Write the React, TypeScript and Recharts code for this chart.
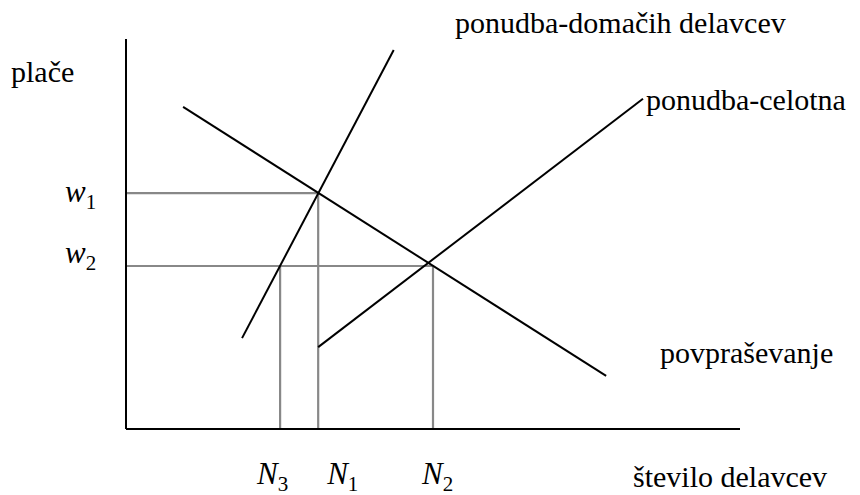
import { ComposedChart, Line, XAxis, YAxis, ReferenceLine, Customized } from 'recharts';

// number of workers (N) and wages (w), in chart units 0..100
const domesticSupply = [{ n: 18.9, w: 23.3 }, { n: 43.6, w: 97.2 }];
const totalSupply = [{ n: 31.3, w: 21.0 }, { n: 84.2, w: 84.7 }];
const demand = [{ n: 9.3, w: 82.6 }, { n: 78.2, w: 13.6 }];

const nValues = [25.1, 31.3, 50.0]; // N3, N1, N2
const nSubs = ['3', '1', '2'];
const wValues = [60.5, 41.8]; // w1, w2
const wSubs = ['1', '2'];

const FONT = '"Liberation Serif", "Times New Roman", serif';
const GRAY = '#888888';
const nLabelDx = [-23, 9, -11];
const wLabelDy = [9, -3];

const NTick = (props: any) => {
  const { x, index } = props;
  return (
    <text x={x + nLabelDx[index]} y={484} style={{ fontFamily: FONT, fontSize: 31 }} fill="#000">
      <tspan fontStyle="italic">N</tspan>
      <tspan style={{ fontSize: 21 }} dy={7}>{nSubs[index]}</tspan>
    </text>
  );
};

const WTick = (props: any) => {
  const { y, index } = props;
  return (
    <text x={65} y={y + wLabelDy[index]} style={{ fontFamily: FONT, fontSize: 31 }} fill="#000">
      <tspan fontStyle="italic">w</tspan>
      <tspan style={{ fontSize: 21 }} dy={7}>{wSubs[index]}</tspan>
    </text>
  );
};

const Labels = () => (
  <g style={{ fontFamily: FONT, fontSize: 30 }} fill="#000">
    <text x={11} y={82}>plače</text>
    <text x={455} y={33}>ponudba-domačih delavcev</text>
    <text x={646} y={110}>ponudba-celotna</text>
    <text x={660} y={363}>povpraševanje</text>
    <text x={633} y={487}>število delavcev</text>
  </g>
);

export default function App() {
  const [n3, n1, n2] = nValues;
  const [w1, w2] = wValues;
  return (
    <div style={{ position: 'absolute', left: 0, top: 0, width: 860, height: 495, background: '#fff' }}>
      <ComposedChart width={860} height={495} margin={{ top: 39, right: 120, bottom: 0, left: 0 }}>
        <XAxis
          dataKey="n"
          type="number"
          domain={[0, 100]}
          ticks={nValues}
          tickLine={false}
          axisLine={{ stroke: '#000', strokeWidth: 2 }}
          tick={<NTick />}
          height={66}
          allowDataOverflow
        />
        <YAxis
          dataKey="w"
          type="number"
          domain={[0, 100]}
          ticks={wValues}
          tickLine={false}
          axisLine={{ stroke: '#000', strokeWidth: 2 }}
          tick={<WTick />}
          width={126}
          allowDataOverflow
        />
        <ReferenceLine segment={[{ x: 0, y: w1 }, { x: n1, y: w1 }]} stroke={GRAY} strokeWidth={2.2} />
        <ReferenceLine segment={[{ x: n1, y: 0 }, { x: n1, y: w1 }]} stroke={GRAY} strokeWidth={2.2} />
        <ReferenceLine segment={[{ x: 0, y: w2 }, { x: n2, y: w2 }]} stroke={GRAY} strokeWidth={2.2} />
        <ReferenceLine segment={[{ x: n2, y: 0 }, { x: n2, y: w2 }]} stroke={GRAY} strokeWidth={2.2} />
        <ReferenceLine segment={[{ x: n3, y: 0 }, { x: n3, y: w2 }]} stroke={GRAY} strokeWidth={2.2} />
        <Line data={domesticSupply} dataKey="w" type="linear" stroke="#000" strokeWidth={2} dot={false} isAnimationActive={false} />
        <Line data={totalSupply} dataKey="w" type="linear" stroke="#000" strokeWidth={2} dot={false} isAnimationActive={false} />
        <Line data={demand} dataKey="w" type="linear" stroke="#000" strokeWidth={2} dot={false} isAnimationActive={false} />
        <Customized component={Labels} />
      </ComposedChart>
    </div>
  );
}
